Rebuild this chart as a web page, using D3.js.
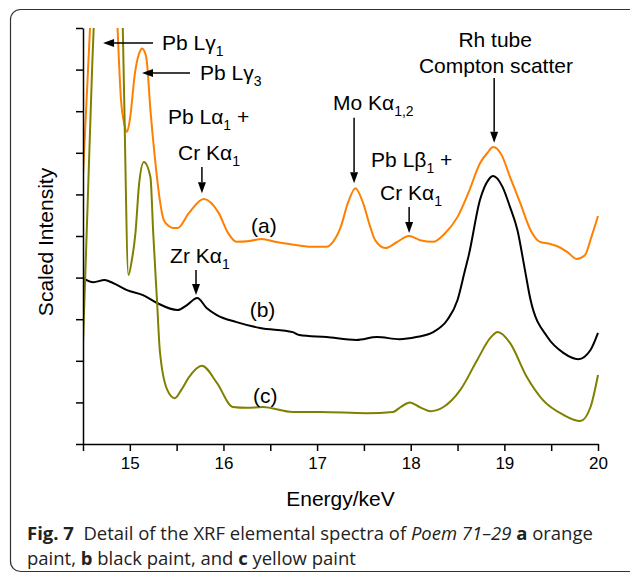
<!DOCTYPE html>
<html>
<head>
<meta charset="utf-8">
<script src="https://cdn.jsdelivr.net/npm/d3@7"></script>
<style>
  html, body { margin: 0; padding: 0; background: #fff; }
  svg { display: block; }
  .arial { font-family: "Liberation Sans", Arial, Helvetica, sans-serif; }
  .cap { font-family: "Open Sans", "Noto Sans", sans-serif; }
</style>
</head>
<body>
<svg id="chart" width="630" height="574"></svg>
<script>
// ---------- data (energy in keV, scaled intensity in arbitrary units) ----------
const energyA = [14.50,14.575,14.65,14.73,14.80,14.86,14.906,14.94,14.97,15.00,15.055,15.115,15.13,15.17,15.18,15.22,15.27,15.32,15.36,15.41,15.46,15.51,15.63,15.79,15.95,16.05,16.14,16.28,16.41,16.55,16.70,16.94,17.10,17.17,17.25,17.33,17.41,17.49,17.57,17.62,17.73,17.85,17.98,18.10,18.24,18.36,18.50,18.62,18.74,18.82,18.88,18.97,19.06,19.17,19.28,19.38,19.47,19.56,19.67,19.77,19.86,19.93,20.00];
const seriesA  = [6.47,10.0,13.5,15.0,14.0,10.5,8.27,7.7,7.5,7.79,8.92,9.47,9.51,9.35,9.23,8.03,6.83,5.87,5.4,5.25,5.19,5.19,5.55,5.89,5.55,5.07,4.86,4.88,4.93,4.86,4.81,4.74,4.74,4.86,5.2,5.8,6.15,5.8,5.2,4.9,4.71,4.85,5.0,4.9,4.86,5.05,5.46,6.06,6.75,7.0,7.14,6.95,6.42,5.79,5.14,4.86,4.82,4.76,4.62,4.45,4.54,4.98,5.48];

const energyB = [14.50,14.61,14.73,14.82,14.97,15.14,15.29,15.51,15.61,15.72,15.82,15.93,16.14,16.39,16.74,16.81,17.10,17.42,17.64,17.88,18.06,18.24,18.39,18.50,18.58,18.62,18.74,18.83,18.88,18.98,19.06,19.14,19.22,19.28,19.46,19.63,19.79,19.92,20.00];
const seriesB  = [3.99,3.89,3.94,3.87,3.70,3.58,3.39,3.22,3.34,3.51,3.27,3.10,2.93,2.79,2.69,2.62,2.57,2.50,2.57,2.52,2.57,2.69,2.98,3.46,4.18,4.54,5.87,6.35,6.44,6.18,5.70,5.14,4.18,3.46,2.57,2.19,2.04,2.26,2.67];

const energyC = [14.50,14.55,14.60,14.65,14.72,14.80,14.87,14.925,14.94,14.985,15.02,15.06,15.10,15.15,15.22,15.25,15.29,15.32,15.40,15.48,15.55,15.63,15.77,15.93,16.10,16.25,16.42,16.74,17.03,17.53,17.81,17.90,17.99,18.10,18.21,18.35,18.53,18.71,18.85,18.93,19.06,19.24,19.41,19.63,19.81,19.92,20.00];
const seriesC  = [2.43,5.8,9.2,12.0,15.0,15.0,12.5,10.0,8.27,4.06,4.4,5.07,6.27,6.78,6.42,5.07,3.46,2.26,1.3,1.1,1.3,1.6,1.88,1.47,0.89,0.87,0.89,0.77,0.77,0.74,0.77,0.9,1.0,0.88,0.79,0.89,1.3,2.02,2.55,2.69,2.43,1.61,1.06,0.70,0.55,0.89,1.66];

const seriesNames  = ["(a)", "(b)", "(c)"];
const seriesColors = ["#ff8000", "#000000", "#808000"];

const xTickValues = [14.5,15,15.5,16,16.5,17,17.5,18,18.5,19,19.5,20];
const xTickLabels = ["", "15", "", "16", "", "17", "", "18", "", "19", "", "20"];
const yTickValues = [0,1,2,3,4,5,6,7,8,9,10];

const xLabel = "Energy/keV";
const yLabel = "Scaled Intensity";

// annotations: label parts and anchor in data units; arrows from/to in data units
const labels = [
  {parts:[["Pb L"],["γ"],["1","sub"]], e:15.344, v:9.47},
  {parts:[["Pb L"],["γ"],["3","sub"]], e:15.75, v:8.75},
  {parts:[["Pb L"],["α"],["1","sub"],[" +","up"]], e:15.408, v:7.69},
  {parts:[["Cr K"],["α"],["1","sub"]], e:15.515, v:6.83},
  {parts:[["(a)"]], e:16.295, v:5.07},
  {parts:[["Zr K"],["α"],["1","sub"]], e:15.43, v:4.35},
  {parts:[["(b)"]], e:16.28, v:3.05},
  {parts:[["(c)"]], e:16.316, v:0.99},
  {parts:[["Mo K"],["α"],["1,2","sub"]], e:17.17, v:8.03},
  {parts:[["Pb L"],["β"],["1","sub"],[" +","up"]], e:17.577, v:6.66},
  {parts:[["Cr K"],["α"],["1","sub"]], e:17.673, v:5.87},
  {parts:[["Rh tube"]], e:18.902, v:9.54, anchor:"middle"},
  {parts:[["Compton scatter"]], e:18.91, v:8.92, anchor:"middle"}
];
const arrows = [
  {e1:15.248, v1:9.64, e2:14.714, v2:9.64},
  {e1:15.643, v1:8.92, e2:15.13,  v2:8.92},
  {e1:15.77,  v1:6.66, e2:15.77,  v2:6.03},
  {e1:15.707, v1:4.18, e2:15.707, v2:3.58},
  {e1:17.395, v1:7.84, e2:17.395, v2:6.27},
  {e1:17.983, v1:5.70, e2:17.983, v2:5.07},
  {e1:18.891, v1:8.80, e2:18.891, v2:7.24}
];

const captionLine1 = [["Fig. 7", "bold"], ["  Detail of the XRF elemental spectra of ", "normal"], ["Poem 71–29", "italic"], [" ", "normal"], ["a", "bold"], [" orange", "normal"]];
const captionLine2 = [["paint, ", "normal"], ["b", "bold"], [" black paint, and ", "normal"], ["c", "bold"], [" yellow paint", "normal"]];

// ---------- drawing ----------
const svg = d3.select("#chart");
const plot = {left: 83, right: 598, top: 28, bottom: 444};

const x = d3.scaleLinear().domain([14.5, 20]).range([plot.left, plot.right]);
const y = d3.scaleLinear().domain([0, 10]).range([plot.bottom, plot.top]);

// frame
svg.append("rect")
  .attr("x", 10.5).attr("y", 9.5).attr("width", 640).attr("height", 562)
  .attr("rx", 10).attr("ry", 10)
  .attr("fill", "none").attr("stroke", "#333").attr("stroke-width", 1.2);

svg.append("defs").append("clipPath").attr("id", "clip")
  .append("rect").attr("x", plot.left).attr("y", plot.top)
  .attr("width", plot.right - plot.left + 2).attr("height", plot.bottom - plot.top);

const line = d3.line().x(d => x(d[0])).y(d => y(d[1])).curve(d3.curveMonotoneX);
const seriesData = [
  d3.zip(energyA, seriesA),
  d3.zip(energyB, seriesB),
  d3.zip(energyC, seriesC)
];
const g = svg.append("g").attr("clip-path", "url(#clip)");
seriesData.forEach((data, i) => {
  g.append("path").datum(data)
    .attr("d", line)
    .attr("fill", "none")
    .attr("stroke", seriesColors[i])
    .attr("stroke-width", 2)
    .attr("stroke-linejoin", "round");
});

// axes
const xAxis = d3.axisBottom(x).tickValues(xTickValues)
  .tickFormat((d, i) => xTickLabels[i]).tickSize(7).tickSizeOuter(0).tickPadding(6);
const gx = svg.append("g").attr("transform", `translate(0,${plot.bottom})`).call(xAxis);
gx.attr("font-family", null).attr("font-size", null).attr("class", "arial");
gx.selectAll("text").attr("class", "arial").style("font-size", "17px").attr("fill", "#000");
gx.selectAll("line, path").attr("stroke", "#000").attr("stroke-width", 1.5);

const yAxis = d3.axisLeft(y).tickValues(yTickValues).tickFormat("").tickSize(7).tickSizeOuter(0);
const gy = svg.append("g").attr("transform", `translate(${plot.left},0)`).call(yAxis);
gy.selectAll("line, path").attr("stroke", "#000").attr("stroke-width", 1.5);

svg.append("text").attr("class", "arial")
  .attr("x", (plot.left + plot.right) / 2).attr("y", 506)
  .attr("text-anchor", "middle").style("font-size", "21px")
  .text(xLabel);

svg.append("text").attr("class", "arial")
  .attr("transform", `translate(52.5,${(plot.top + plot.bottom) / 2 + 6}) rotate(-90)`)
  .attr("text-anchor", "middle").style("font-size", "21px")
  .text(yLabel);

// annotation labels
labels.forEach(l => {
  const t = svg.append("text").attr("class", "arial")
    .attr("x", x(l.e)).attr("y", y(l.v))
    .style("font-size", "21px")
    .attr("text-anchor", l.anchor || "start");
  let shifted = 0;
  l.parts.forEach(p => {
    const ts = t.append("tspan").text(p[0]);
    if (p[1] === "sub") { ts.style("font-size", "14px").attr("dy", 6); shifted = 6; }
    else if (p[1] === "up") { ts.attr("dy", -shifted); shifted = 0; }
  });
});

// arrows
arrows.forEach(a => {
  const x1 = x(a.e1), y1 = y(a.v1), x2 = x(a.e2), y2 = y(a.v2);
  const ang = Math.atan2(y2 - y1, x2 - x1);
  const L = 11, W = 4;
  const bx = x2 - L * Math.cos(ang), by = y2 - L * Math.sin(ang);
  svg.append("line")
    .attr("x1", x1).attr("y1", y1).attr("x2", bx).attr("y2", by)
    .attr("stroke", "#000").attr("stroke-width", 1.5);
  const px = -Math.sin(ang) * W, py = Math.cos(ang) * W;
  svg.append("path")
    .attr("d", `M${x2},${y2}L${bx + px},${by + py}L${bx - px},${by - py}Z`)
    .attr("fill", "#000");
});

// caption
function caption(parts, yPos, fs) {
  const t = svg.append("text").attr("class", "cap")
    .attr("x", 27).attr("y", yPos)
    .style("font-size", fs + "px").attr("fill", "#222")
    .style("white-space", "pre");
  parts.forEach(p => {
    const ts = t.append("tspan").text(p[0]);
    if (p[1] === "bold") ts.attr("font-weight", "bold");
    if (p[1] === "italic") ts.attr("font-style", "italic");
  });
  return t;
}
const c1 = caption(captionLine1, 540, 20);
const w1 = c1.node().getComputedTextLength();
const fs = 20 * 566 / w1;
c1.style("font-size", fs + "px");
caption(captionLine2, 565, fs);
</script>
</body>
</html>
